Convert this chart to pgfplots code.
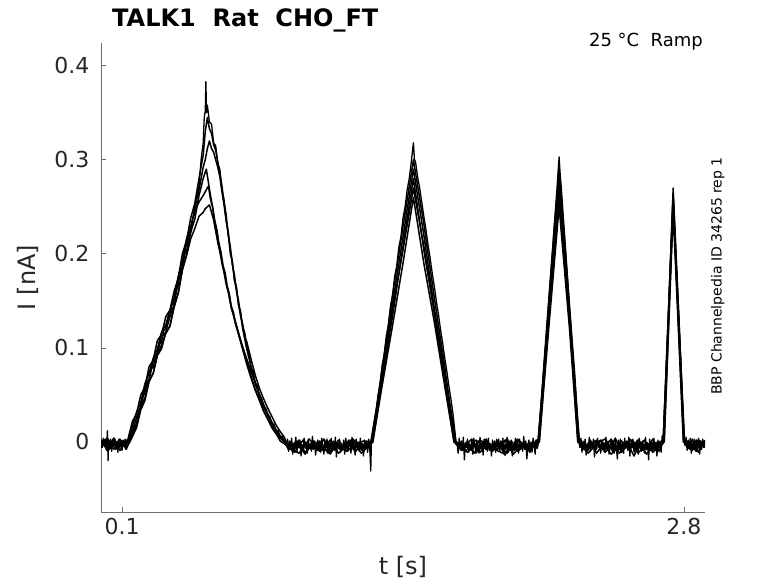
\documentclass[border=0pt]{standalone}
\usepackage{fontspec}
\setmainfont{DejaVu Sans}
\usepackage{pgfplots}
\pgfplotsset{compat=1.18}
\definecolor{axgray}{RGB}{110,110,110}
\definecolor{txtgray}{RGB}{38,38,38}
\begin{document}
\begin{tikzpicture}
\path[use as bounding box] (0pt,0pt) rectangle (778pt,583pt);
\begin{axis}[
 at={(101pt,71pt)}, anchor=south west,
 scale only axis, width=604pt, height=469pt,
 xmin=-0.001, xmax=2.901, ymin=-0.0745, ymax=0.4241,
 axis lines*=left,
 axis line style={axgray, line width=0.8pt},
 tick align=inside, major tick length=5pt,
 tick style={axgray, line width=0.6pt},
 xtick={0.1,2.8}, xticklabels={0.1,2.8},
 ytick={0,0.1,0.2,0.3,0.4}, yticklabels={0,0.1,0.2,0.3,0.4},
 ticklabel style={font=\fontsize{22}{26}\selectfont, text=txtgray},
 yticklabel style={xshift=-8pt},
 xticklabel style={yshift=-3pt},
 xlabel={t [s]}, ylabel={I [nA]},
 label style={font=\fontsize{24}{28}\selectfont, text=txtgray},
 xlabel style={at={(axis description cs:0.5,-0.117)}, anchor=center},
 ylabel style={at={(axis description cs:-0.121,0.5)}, anchor=center},
 every axis plot/.append style={black, line join=round},
]
% trace 6
\addplot[line width=1.5pt] coordinates {
(0.00,-0.006)(0.03,0.002)(0.06,-0.004)(0.09,0.003)(0.12,-0.008)(0.135,0.000)
(0.15,0.006)(0.17,0.018)(0.19,0.037)(0.21,0.047)(0.23,0.065)(0.25,0.073)(0.27,0.093)(0.29,0.103)(0.31,0.115)(0.33,0.123)(0.35,0.144)(0.37,0.158)(0.39,0.183)(0.41,0.198)(0.43,0.216)(0.45,0.227)(0.47,0.240)(0.49,0.244)(0.50,0.248)(0.52,0.252)(0.53,0.244)(0.54,0.236)(0.55,0.224)(0.56,0.212)(0.57,0.202)(0.58,0.190)(0.59,0.180)(0.60,0.168)(0.61,0.160)(0.62,0.148)(0.63,0.140)(0.64,0.130)(0.66,0.115)(0.68,0.101)(0.70,0.085)(0.72,0.070)(0.74,0.056)(0.76,0.046)(0.78,0.033)(0.80,0.025)(0.82,0.015)(0.84,0.009)(0.86,0.001)(0.88,-0.002)(0.90,-0.005)
(0.95,-0.012)(1.00,0.003)(1.05,-0.010)(1.10,-0.001)(1.15,-0.008)(1.20,0.002)(1.25,-0.012)(1.305,0.000)
(1.35,0.060)(1.40,0.124)(1.45,0.190)(1.50,0.260)(1.55,0.190)(1.60,0.128)(1.65,0.060)(1.695,0.000)
(1.76,-0.011)(1.82,0.002)(1.88,-0.007)(1.94,-0.013)(2.00,0.001)(2.06,-0.006)(2.105,0.000)
(2.15,0.120)(2.20,0.250)(2.25,0.120)(2.29,0.000)
(2.35,-0.006)(2.40,0.002)(2.45,-0.013)(2.50,-0.003)(2.55,0.002)(2.60,-0.009)(2.65,-0.001)(2.705,0.000)
(2.748,0.245)(2.797,0.000)(2.85,-0.008)(2.90,0.001)
};
% trace 5
\addplot[line width=1.5pt] coordinates {
(0.00,0.001)(0.03,-0.009)(0.06,0.003)(0.09,-0.005)(0.12,0.002)(0.128,0.000)
(0.15,0.016)(0.17,0.032)(0.19,0.042)(0.21,0.062)(0.23,0.073)(0.25,0.089)(0.27,0.099)(0.29,0.117)(0.31,0.124)(0.33,0.140)(0.35,0.153)(0.37,0.176)(0.39,0.192)(0.41,0.216)(0.43,0.229)(0.45,0.246)(0.47,0.255)(0.49,0.262)(0.50,0.266)(0.515,0.272)(0.525,0.258)(0.535,0.250)(0.545,0.234)(0.555,0.225)(0.565,0.210)(0.575,0.200)(0.585,0.186)(0.595,0.178)(0.605,0.164)(0.615,0.156)(0.625,0.142)(0.64,0.132)(0.66,0.116)(0.68,0.100)(0.70,0.088)(0.72,0.075)(0.74,0.063)(0.76,0.051)(0.78,0.040)(0.80,0.030)(0.82,0.021)(0.84,0.013)(0.86,0.006)(0.88,0.000)(0.90,-0.008)
(0.94,-0.002)(0.98,-0.013)(1.02,0.001)(1.06,-0.006)(1.10,-0.011)(1.14,0.002)(1.18,-0.010)(1.22,-0.003)(1.26,0.001)(1.295,0.000)
(1.35,0.072)(1.40,0.141)(1.45,0.204)(1.50,0.270)(1.55,0.208)(1.60,0.138)(1.65,0.074)(1.705,0.000)
(1.75,-0.004)(1.80,-0.012)(1.85,0.001)(1.90,-0.009)(1.95,0.003)(2.00,-0.010)(2.05,-0.002)(2.098,0.000)
(2.15,0.132)(2.20,0.260)(2.25,0.134)(2.298,0.000)
(2.34,-0.012)(2.38,-0.002)(2.42,0.003)(2.46,-0.010)(2.50,0.001)(2.54,-0.008)(2.58,0.002)(2.62,-0.013)(2.66,-0.003)(2.70,0.000)
(2.748,0.250)(2.803,0.000)(2.84,-0.004)(2.87,-0.011)(2.90,0.002)
};
% trace 4
\addplot[line width=1.5pt] coordinates {
(0.00,-0.003)(0.03,0.004)(0.06,-0.008)(0.09,0.002)(0.12,-0.006)(0.138,0.000)
(0.15,0.006)(0.17,0.015)(0.19,0.034)(0.21,0.044)(0.23,0.064)(0.25,0.073)(0.27,0.092)(0.29,0.099)(0.31,0.116)(0.33,0.123)(0.35,0.143)(0.37,0.158)(0.39,0.183)(0.41,0.199)(0.43,0.223)(0.45,0.237)(0.47,0.262)(0.49,0.280)(0.505,0.290)(0.515,0.276)(0.525,0.262)(0.535,0.250)(0.545,0.236)(0.555,0.226)(0.565,0.212)(0.575,0.202)(0.585,0.188)(0.595,0.180)(0.605,0.166)(0.615,0.158)(0.625,0.144)(0.635,0.138)(0.645,0.126)(0.66,0.114)(0.68,0.098)(0.70,0.082)(0.72,0.068)(0.74,0.055)(0.76,0.044)(0.78,0.033)(0.80,0.024)(0.82,0.016)(0.84,0.009)(0.86,0.004)(0.88,0.000)(0.89,-0.003)
(0.93,-0.011)(0.97,0.002)(1.01,-0.008)(1.05,0.001)(1.09,-0.012)(1.13,-0.002)(1.17,-0.009)(1.21,0.003)(1.25,-0.008)(1.305,0.000)
(1.35,0.066)(1.40,0.134)(1.45,0.208)(1.50,0.280)(1.55,0.204)(1.60,0.138)(1.65,0.064)(1.695,0.000)
(1.75,-0.010)(1.80,0.002)(1.85,-0.008)(1.90,-0.001)(1.95,-0.012)(2.00,0.003)(2.05,-0.007)(2.105,0.000)
(2.15,0.130)(2.20,0.270)(2.25,0.128)(2.29,0.000)
(2.34,-0.007)(2.38,0.002)(2.42,-0.011)(2.46,-0.003)(2.50,-0.009)(2.54,0.003)(2.58,-0.012)(2.62,-0.001)(2.66,-0.008)(2.705,0.000)
(2.748,0.255)(2.798,0.000)(2.84,-0.009)(2.87,0.002)(2.90,-0.004)
};
% trace 3
\addplot[line width=1.5pt] coordinates {
(0.00,0.002)(0.03,-0.007)(0.06,0.004)(0.09,-0.009)(0.12,0.001)(0.13,0.000)
(0.15,0.011)(0.17,0.026)(0.19,0.038)(0.21,0.056)(0.23,0.066)(0.25,0.086)(0.27,0.095)(0.29,0.111)(0.31,0.117)(0.33,0.133)(0.35,0.146)(0.37,0.170)(0.39,0.186)(0.41,0.212)(0.43,0.225)(0.45,0.250)(0.47,0.268)(0.49,0.292)(0.50,0.300)(0.51,0.312)(0.52,0.320)(0.53,0.312)(0.54,0.308)(0.55,0.300)(0.56,0.292)(0.57,0.282)(0.58,0.266)(0.59,0.252)(0.60,0.236)(0.61,0.224)(0.62,0.204)(0.63,0.192)(0.64,0.172)(0.65,0.162)(0.66,0.145)(0.67,0.135)(0.68,0.120)(0.70,0.098)(0.72,0.080)(0.74,0.062)(0.76,0.050)(0.78,0.037)(0.80,0.029)(0.82,0.019)(0.84,0.012)(0.86,0.005)(0.88,0.001)(0.90,-0.006)
(0.94,0.001)(0.98,-0.011)(1.02,-0.002)(1.06,-0.009)(1.10,0.002)(1.14,-0.012)(1.18,-0.004)(1.22,0.001)(1.26,-0.010)(1.30,0.000)
(1.35,0.070)(1.40,0.147)(1.45,0.218)(1.50,0.290)(1.55,0.220)(1.60,0.143)(1.65,0.074)(1.70,0.000)
(1.74,-0.006)(1.78,0.003)(1.82,-0.011)(1.86,-0.002)(1.90,-0.008)(1.94,0.002)(1.98,-0.013)(2.02,-0.003)(2.06,-0.009)(2.10,0.000)
(2.15,0.142)(2.20,0.280)(2.25,0.136)(2.295,0.000)
(2.33,-0.010)(2.37,0.001)(2.41,-0.008)(2.45,0.003)(2.49,-0.012)(2.53,-0.001)(2.57,-0.009)(2.61,0.002)(2.65,-0.011)(2.70,0.000)
(2.748,0.260)(2.80,0.000)(2.83,-0.008)(2.86,0.002)(2.90,-0.006)
};
% trace 2
\addplot[line width=1.5pt] coordinates {
(0.00,-0.004)(0.02,0.003)(0.04,-0.008)(0.06,0.002)(0.08,-0.006)(0.10,0.001)(0.12,-0.005)(0.125,0.000)
(0.15,0.022)(0.17,0.030)(0.19,0.050)(0.21,0.058)(0.23,0.080)(0.25,0.087)(0.27,0.108)(0.29,0.114)(0.31,0.133)(0.33,0.140)(0.35,0.160)(0.37,0.174)(0.39,0.200)(0.41,0.214)(0.43,0.238)(0.45,0.254)(0.47,0.280)(0.49,0.305)(0.50,0.330)(0.51,0.345)(0.52,0.333)(0.53,0.328)(0.54,0.316)(0.55,0.310)(0.56,0.298)(0.57,0.285)(0.58,0.272)(0.59,0.255)(0.60,0.242)(0.61,0.220)(0.62,0.208)(0.63,0.188)(0.64,0.178)(0.65,0.160)(0.66,0.150)(0.67,0.133)(0.68,0.125)(0.69,0.112)(0.70,0.106)(0.72,0.088)(0.74,0.071)(0.76,0.057)(0.78,0.046)(0.80,0.036)(0.82,0.027)(0.84,0.018)(0.86,0.011)(0.88,0.005)(0.895,-0.004)
(0.92,-0.010)(0.95,0.002)(0.98,-0.012)(1.01,-0.001)(1.04,-0.009)(1.07,0.003)(1.10,-0.013)(1.13,-0.003)(1.16,-0.008)(1.19,0.002)(1.22,-0.011)(1.25,-0.002)(1.28,-0.007)(1.30,0.000)
(1.35,0.078)(1.40,0.156)(1.45,0.229)(1.50,0.300)(1.55,0.232)(1.60,0.154)(1.65,0.081)(1.70,0.000)
(1.73,-0.009)(1.76,0.001)(1.79,-0.012)(1.82,-0.004)(1.85,0.003)(1.88,-0.010)(1.91,-0.002)(1.94,-0.014)(1.97,0.001)(2.00,-0.007)(2.03,-0.002)(2.06,-0.011)(2.09,0.002)(2.10,0.000)
(2.125,0.076)(2.15,0.150)(2.175,0.222)(2.20,0.290)(2.225,0.219)(2.25,0.144)(2.275,0.072)(2.295,0.000)
(2.32,-0.008)(2.35,0.002)(2.38,-0.012)(2.41,-0.003)(2.44,-0.009)(2.47,0.004)(2.50,-0.011)(2.53,-0.002)(2.56,-0.015)(2.59,0.000)(2.62,-0.008)(2.65,0.003)(2.68,-0.010)(2.70,0.000)
(2.725,0.136)(2.748,0.265)(2.775,0.134)(2.80,0.000)
(2.82,-0.007)(2.84,0.003)(2.86,-0.010)(2.88,0.001)(2.90,-0.005)
};
% trace 1 (main, dense)
\addplot[line width=1.3pt] table {
x y
0.000 0.003
0.005 -0.006
0.010 0.004
0.015 -0.004
0.020 0.002
0.025 -0.009
0.030 0.012
0.033 -0.020
0.035 0.001
0.040 -0.007
0.045 0.003
0.050 -0.010
0.055 0.002
0.060 -0.005
0.065 0.004
0.070 -0.008
0.075 0.000
0.080 -0.011
0.085 0.003
0.090 -0.006
0.095 0.001
0.100 -0.009
0.105 0.002
0.110 -0.005
0.115 0.003
0.120 -0.004
0.125 0.002
0.130 0.001
0.140 0.004
0.150 0.010
0.160 0.015
0.170 0.020
0.180 0.033
0.190 0.036
0.200 0.048
0.210 0.052
0.220 0.064
0.230 0.067
0.240 0.078
0.250 0.079
0.260 0.090
0.270 0.093
0.280 0.104
0.290 0.106
0.300 0.118
0.310 0.121
0.320 0.131
0.330 0.134
0.340 0.146
0.350 0.148
0.360 0.162
0.370 0.166
0.380 0.181
0.390 0.184
0.400 0.199
0.410 0.203
0.420 0.218
0.430 0.222
0.440 0.238
0.450 0.242
0.460 0.262
0.470 0.272
0.480 0.300
0.490 0.318
0.495 0.345
0.500 0.352
0.503 0.383
0.506 0.350
0.510 0.358
0.520 0.340
0.530 0.338
0.540 0.318
0.550 0.315
0.560 0.296
0.570 0.290
0.580 0.268
0.590 0.258
0.600 0.235
0.610 0.222
0.620 0.200
0.630 0.192
0.640 0.172
0.650 0.165
0.660 0.146
0.670 0.139
0.680 0.122
0.690 0.116
0.700 0.100
0.710 0.094
0.720 0.079
0.730 0.075
0.740 0.063
0.750 0.060
0.760 0.049
0.770 0.047
0.780 0.038
0.790 0.036
0.800 0.028
0.810 0.027
0.820 0.019
0.830 0.019
0.840 0.012
0.850 0.012
0.860 0.006
0.870 0.006
0.880 0.001
0.890 -0.002
0.895 0.003
0.900 -0.010
0.905 0.001
0.910 -0.006
0.915 0.004
0.920 -0.013
0.925 -0.002
0.930 -0.008
0.935 0.005
0.940 -0.011
0.945 0.000
0.950 -0.005
0.955 0.002
0.960 -0.015
0.965 -0.003
0.970 -0.009
0.975 0.004
0.980 -0.007
0.985 -0.001
0.990 -0.012
0.995 0.003
1.000 -0.006
1.005 -0.002
1.010 -0.010
1.015 0.006
1.020 -0.008
1.025 0.001
1.030 -0.014
1.035 -0.004
1.040 0.002
1.045 -0.009
1.050 0.000
1.055 -0.011
1.060 0.004
1.065 -0.005
1.070 -0.013
1.075 0.002
1.080 -0.007
1.085 0.003
1.090 -0.010
1.095 -0.002
1.100 -0.012
1.105 0.004
1.110 -0.007
1.115 0.001
1.120 -0.009
1.125 0.005
1.130 -0.016
1.135 -0.001
1.140 -0.006
1.145 0.003
1.150 -0.011
1.155 -0.003
1.160 -0.008
1.165 0.002
1.170 -0.013
1.175 0.004
1.180 -0.005
1.185 -0.010
1.190 0.001
1.195 -0.004
1.200 -0.012
1.205 0.005
1.210 -0.008
1.215 -0.001
1.220 -0.014
1.225 0.003
1.230 -0.006
1.235 0.000
1.240 -0.010
1.245 0.004
1.250 -0.009
1.255 -0.002
1.260 -0.015
1.265 0.002
1.270 -0.007
1.275 0.001
1.280 -0.011
1.285 0.003
1.290 -0.005
1.295 -0.031
1.298 -0.002
1.300 0.000
1.310 0.018
1.320 0.030
1.330 0.050
1.340 0.062
1.350 0.082
1.360 0.093
1.370 0.113
1.380 0.124
1.390 0.145
1.400 0.156
1.410 0.176
1.420 0.187
1.430 0.207
1.440 0.218
1.450 0.238
1.460 0.250
1.470 0.268
1.480 0.280
1.490 0.298
1.500 0.318
1.505 0.300
1.510 0.298
1.520 0.282
1.530 0.270
1.540 0.255
1.550 0.240
1.560 0.226
1.570 0.210
1.580 0.196
1.590 0.180
1.600 0.166
1.610 0.150
1.620 0.136
1.630 0.120
1.640 0.106
1.650 0.090
1.660 0.076
1.670 0.060
1.680 0.046
1.690 0.030
1.700 0.010
1.705 -0.003
1.710 -0.002
1.715 -0.012
1.720 0.004
1.725 -0.007
1.730 0.001
1.735 -0.009
1.740 0.005
1.745 -0.019
1.750 -0.001
1.755 -0.006
1.760 0.003
1.765 -0.011
1.770 -0.003
1.775 -0.008
1.780 0.002
1.785 -0.013
1.790 0.004
1.795 -0.005
1.800 -0.010
1.805 0.001
1.810 -0.004
1.815 -0.012
1.820 0.005
1.825 -0.008
1.830 -0.001
1.835 -0.014
1.840 0.003
1.845 -0.006
1.850 0.000
1.855 -0.010
1.860 0.004
1.865 -0.009
1.870 -0.002
1.875 -0.015
1.880 0.002
1.885 -0.007
1.890 0.001
1.895 -0.011
1.900 0.003
1.905 -0.005
1.910 0.003
1.915 -0.010
1.920 0.001
1.925 -0.006
1.930 0.004
1.935 -0.013
1.940 -0.002
1.945 -0.008
1.950 0.005
1.955 -0.011
1.960 0.000
1.965 -0.005
1.970 0.002
1.975 -0.015
1.980 -0.003
1.985 -0.009
1.990 0.004
1.995 -0.007
2.000 -0.001
2.005 -0.012
2.010 0.003
2.015 -0.006
2.020 -0.002
2.025 -0.010
2.030 0.006
2.035 -0.008
2.040 0.001
2.045 -0.018
2.050 -0.004
2.055 0.002
2.060 -0.009
2.065 0.000
2.070 -0.011
2.075 0.004
2.080 -0.005
2.085 -0.013
2.090 0.002
2.095 -0.007
2.100 -0.002
2.105 0.010
2.110 0.025
2.115 0.042
2.120 0.056
2.125 0.072
2.130 0.088
2.135 0.102
2.140 0.118
2.145 0.133
2.150 0.148
2.155 0.164
2.160 0.178
2.165 0.195
2.170 0.208
2.175 0.226
2.180 0.240
2.185 0.255
2.190 0.270
2.195 0.287
2.200 0.303
2.205 0.285
2.210 0.272
2.215 0.256
2.220 0.240
2.225 0.224
2.230 0.208
2.235 0.192
2.240 0.176
2.245 0.160
2.250 0.144
2.255 0.128
2.260 0.112
2.265 0.096
2.270 0.080
2.275 0.064
2.280 0.048
2.285 0.032
2.290 0.016
2.295 0.000
2.300 -0.006
2.305 0.004
2.310 -0.011
2.315 0.001
2.320 -0.007
2.325 0.003
2.330 -0.014
2.335 -0.002
2.340 -0.009
2.345 0.005
2.350 -0.010
2.355 0.000
2.360 -0.006
2.365 0.003
2.370 -0.016
2.375 -0.004
2.380 -0.008
2.385 0.004
2.390 -0.006
2.395 -0.002
2.400 -0.012
2.405 0.002
2.410 -0.007
2.415 -0.001
2.420 -0.011
2.425 0.005
2.430 -0.009
2.435 0.001
2.440 -0.013
2.445 -0.003
2.450 0.003
2.455 -0.010
2.460 -0.001
2.465 -0.012
2.470 0.004
2.475 -0.006
2.480 -0.018
2.485 0.002
2.490 -0.008
2.495 0.003
2.500 -0.011
2.505 -0.002
2.510 -0.012
2.515 0.004
2.520 -0.007
2.525 0.001
2.530 -0.009
2.535 0.005
2.540 -0.015
2.545 -0.001
2.550 -0.006
2.555 0.003
2.560 -0.011
2.565 -0.003
2.570 -0.008
2.575 0.002
2.580 -0.013
2.585 0.004
2.590 -0.005
2.595 -0.010
2.600 0.001
2.605 -0.004
2.610 -0.012
2.615 0.005
2.620 -0.008
2.625 -0.001
2.630 -0.019
2.635 0.003
2.640 -0.006
2.645 0.000
2.650 -0.010
2.655 0.004
2.660 -0.009
2.665 -0.002
2.670 -0.015
2.675 0.002
2.680 -0.007
2.685 0.001
2.690 -0.011
2.695 0.006
2.700 -0.002
2.705 0.018
2.710 0.045
2.715 0.075
2.720 0.105
2.725 0.135
2.730 0.165
2.735 0.195
2.740 0.225
2.745 0.255
2.748 0.270
2.752 0.250
2.757 0.225
2.762 0.200
2.767 0.175
2.772 0.150
2.777 0.125
2.782 0.100
2.787 0.075
2.792 0.050
2.797 0.025
2.802 0.000
2.805 -0.004
2.810 0.005
2.815 -0.009
2.820 0.002
2.825 -0.006
2.830 0.004
2.835 -0.012
2.840 -0.001
2.845 -0.007
2.850 0.003
2.855 -0.010
2.860 0.001
2.865 -0.005
2.870 0.004
2.875 -0.013
2.880 -0.002
2.885 -0.008
2.890 0.003
2.895 -0.006
2.900 0.001
};
\end{axis}
\node[anchor=base west, inner sep=0pt, font=\fontsize{24}{28}\selectfont\bfseries] at (112pt,556pt) {TALK1\ \ Rat\ \ CHO\_FT};
\node[anchor=base east, inner sep=0pt, font=\fontsize{18}{22}\selectfont] at (703pt,536pt) {25 °C\ \ Ramp};
\node[anchor=base west, inner sep=0pt, rotate=90, font=\fontsize{14}{17}\selectfont] at (721.5pt,188pt) {BBP Channelpedia ID 34265 rep 1};
\end{tikzpicture}
\end{document}
